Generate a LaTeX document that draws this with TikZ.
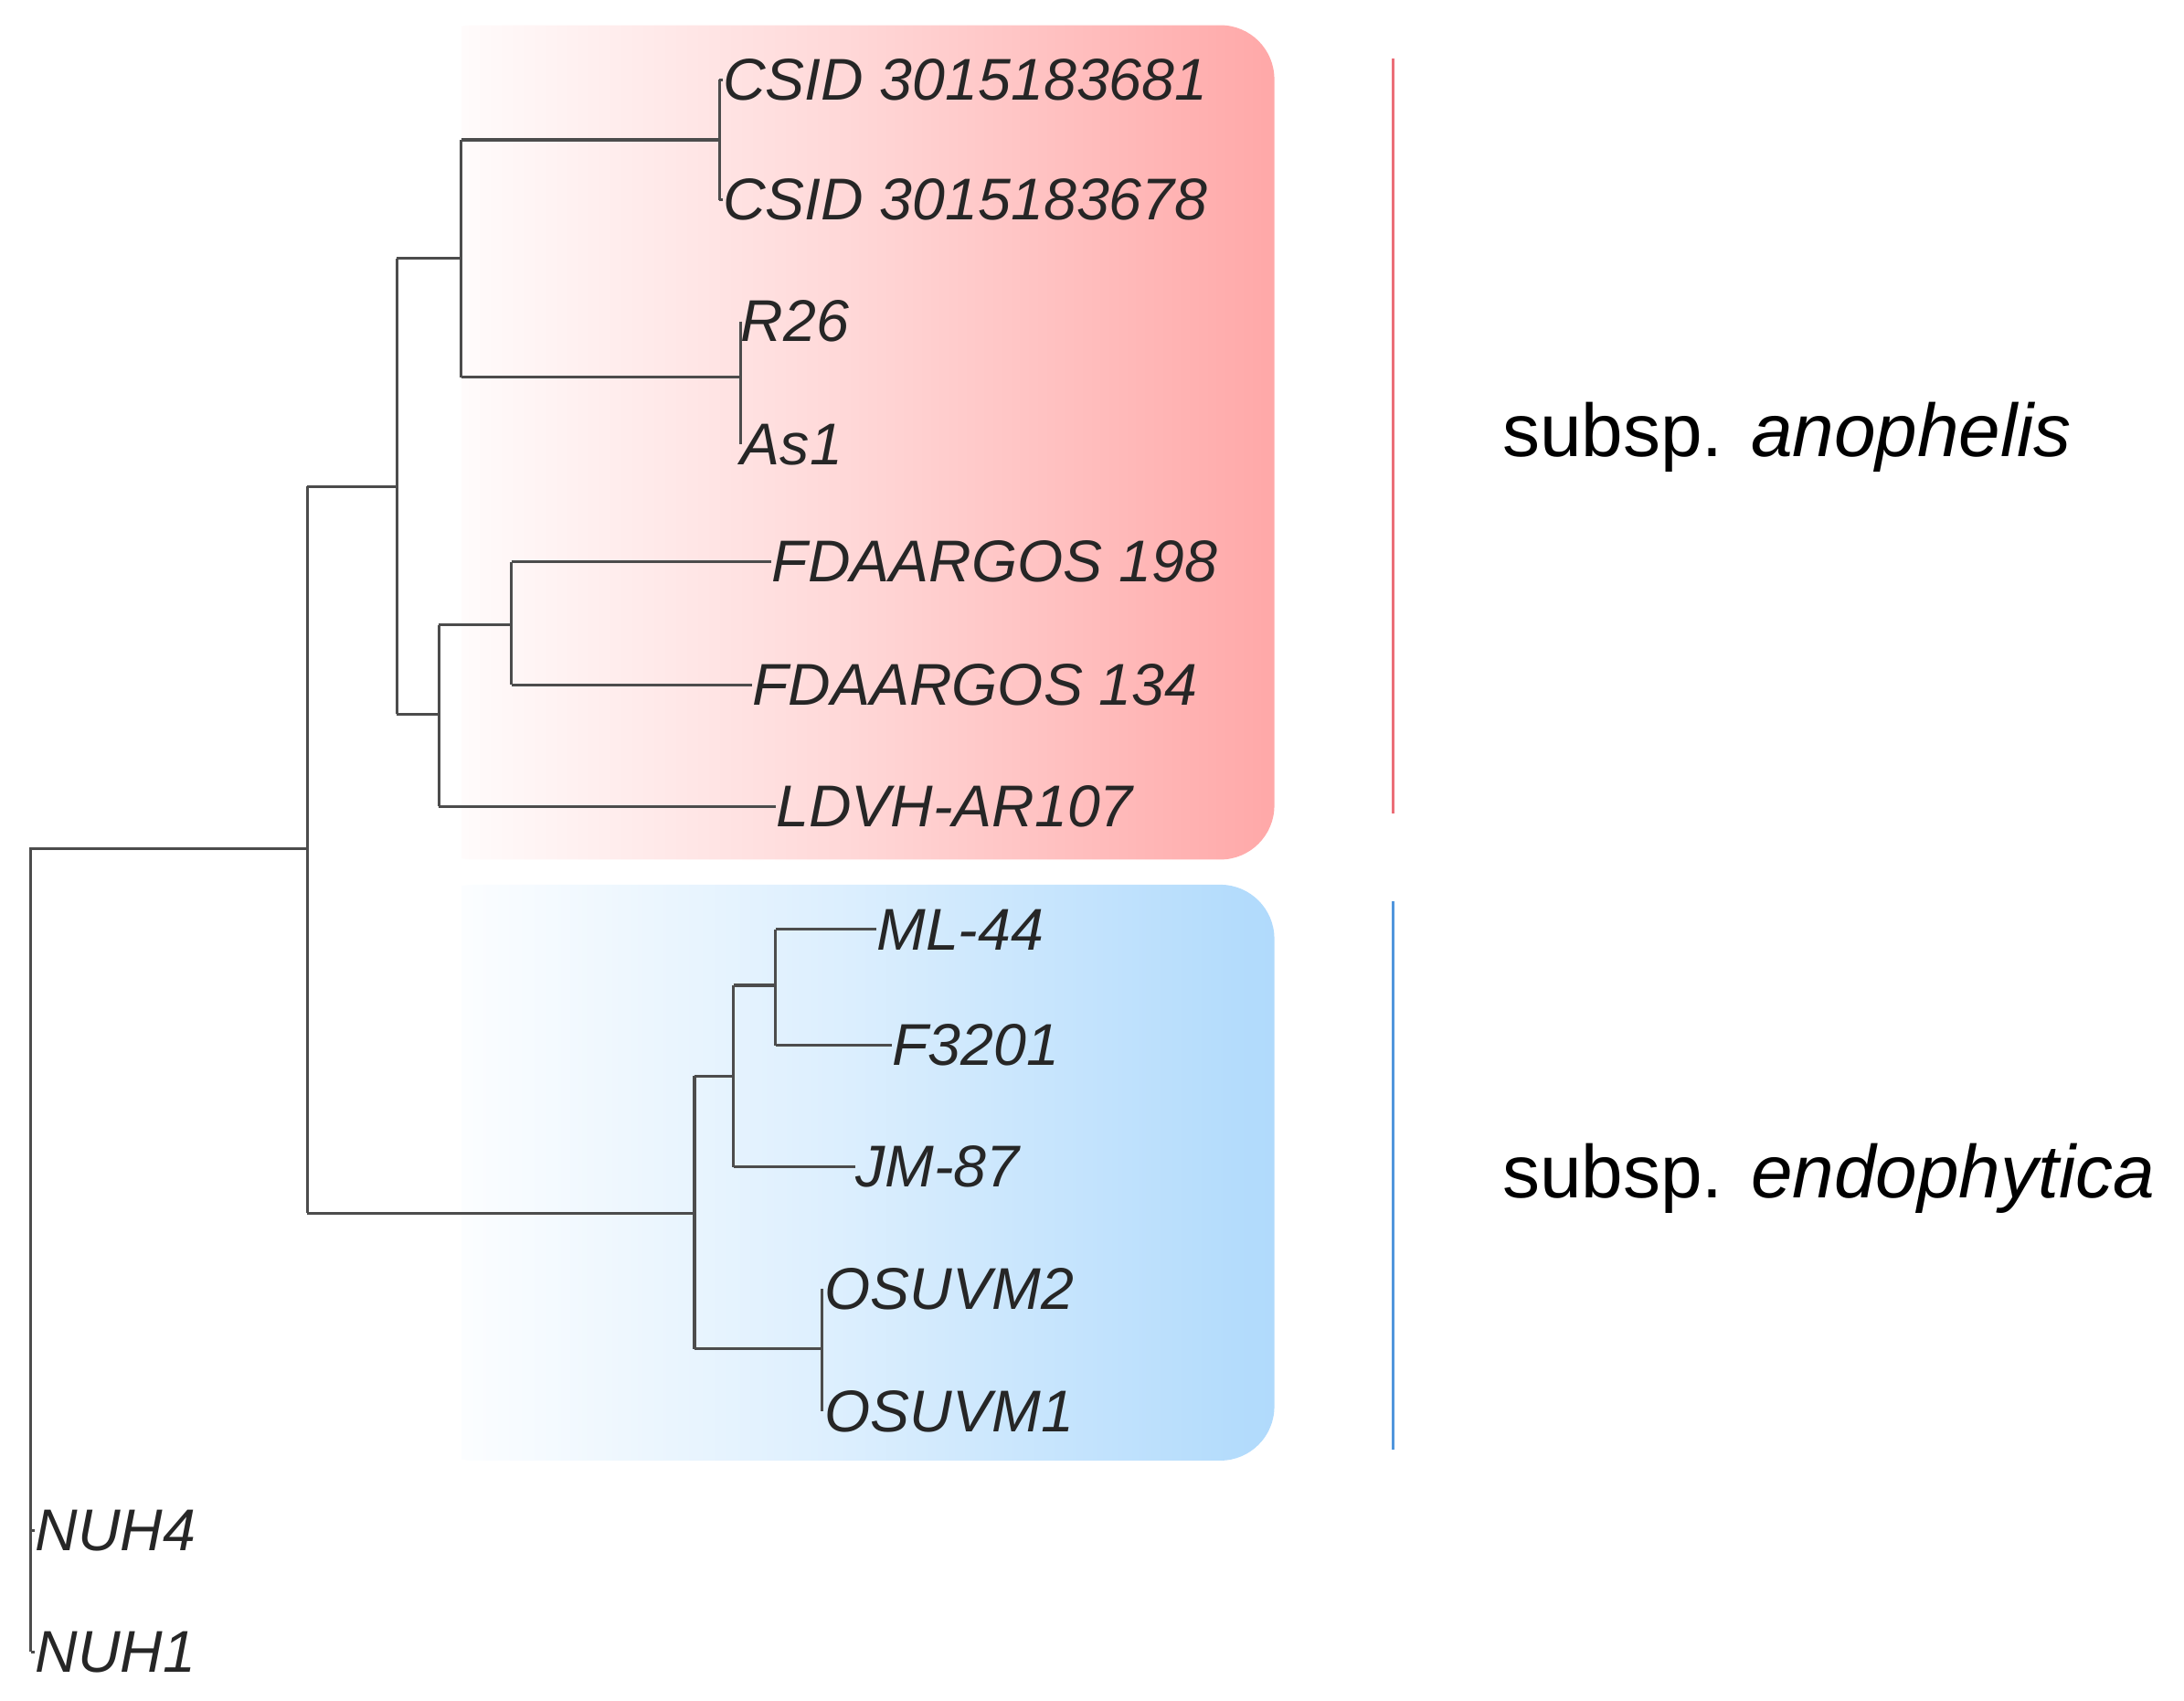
\documentclass[tikz,border=0pt]{standalone}
\usepackage{fontspec}
\setmainfont{Liberation Sans}
\definecolor{rbox}{RGB}{255,168,168}
\definecolor{bbox}{RGB}{176,218,252}
\definecolor{rbar}{RGB}{235,110,120}
\definecolor{bbar}{RGB}{80,150,220}
\begin{document}
\begin{tikzpicture}[x=0.02cm,y=-0.02cm,
  leaf/.style={anchor=west,inner sep=0pt,font=\fontsize{24}{28}\selectfont\itshape,text=black!85},
  br/.style={draw=black!70,line width=1.2pt},
  grp/.style={anchor=west,inner sep=0pt,font=\fontsize{30.5}{36}\selectfont}]
\useasboundingbox (0,0) rectangle (1563,1217);
% boxes
\shade[rounded corners=22pt,left color=white,right color=rbox,middle color=rbox!45] (300,18) rectangle (912,615);
\shade[rounded corners=22pt,left color=white,right color=bbox,middle color=bbox!45] (300,633) rectangle (912,1045);
\fill[white] (300,10) rectangle (330,1050);
% leaves
\node[leaf] (c1) at (517,57) {CSID 3015183681};
\node[leaf] (c2) at (517,143) {CSID 3015183678};
\node[leaf] (r26) at (530,230) {R26};
\node[leaf] (as1) at (530,318) {As1};
\node[leaf] (f198) at (552,402) {FDAARGOS 198};
\node[leaf] (f134) at (538,490) {FDAARGOS 134};
\node[leaf] (ld) at (555,577) {LDVH-AR107};
\node[leaf] (ml) at (627,665) {ML-44};
\node[leaf] (f32) at (638,748) {F3201};
\node[leaf] (jm) at (612,835) {JM-87};
\node[leaf] (o2) at (590,922) {OSUVM2};
\node[leaf] (o1) at (590,1010) {OSUVM1};
\node[leaf] (n4) at (25,1095) {NUH4};
\node[leaf] (n1) at (25,1182) {NUH1};
% internal
\coordinate (root) at (22,607);
\coordinate (a) at (220,607);
\coordinate (b) at (284,348);
\coordinate (c) at (330,185);
\coordinate (d) at (515,100);
\coordinate (e) at (530,270);
\coordinate (f) at (314,511);
\coordinate (g) at (366,447);
\coordinate (h) at (497,868);
\coordinate (i) at (525,770);
\coordinate (j) at (555,705);
\coordinate (k) at (588,965);
\draw[br] (root|-n1) -- (root) -- (a);
\draw[br] (root|-n4) -- (n4.west); \draw[br] (root|-n1) -- (n1.west);
\draw[br] (a|-b) -- (a|-h);
\draw[br] (a|-b) -- (b); \draw[br] (b|-c) -- (b|-f);
\draw[br] (b|-c) -- (c); \draw[br] (c|-d) -- (c|-e);
\draw[br] (c|-d) -- (d); \draw[br] (d|-c1) -- (d|-c2);
\draw[br] (d|-c1) -- (c1.west); \draw[br] (d|-c2) -- (c2.west);
\draw[br] (c|-e) -- (e); \draw[br] (e|-r26) -- (e|-as1);
\draw[br] (b|-f) -- (f); \draw[br] (f|-g) -- (f|-ld);
\draw[br] (f|-g) -- (g); \draw[br] (g|-f198) -- (g|-f134);
\draw[br] (g|-f198) -- (f198.west); \draw[br] (g|-f134) -- (f134.west);
\draw[br] (f|-ld) -- (ld.west);
\draw[br] (a|-h) -- (h); \draw[br] (h|-i) -- (h|-k);
\draw[br] (h|-i) -- (i); \draw[br] (i|-j) -- (i|-jm);
\draw[br] (i|-j) -- (j); \draw[br] (j|-ml) -- (j|-f32);
\draw[br] (j|-ml) -- (ml.west); \draw[br] (j|-f32) -- (f32.west);
\draw[br] (i|-jm) -- (jm.west);
\draw[br] (h|-k) -- (k); \draw[br] (k|-o2) -- (k|-o1);
% group bars
\coordinate (ra) at (997,42); \coordinate (rb) at (997,582);
\coordinate (ba) at (997,645); \coordinate (bb) at (997,1037);
\draw[rbar,line width=1.2pt] (ra) -- (rb);
\draw[bbar,line width=1.2pt] (ba) -- (bb);
\node[grp] (ga) at (1075,313) {subsp. \textit{anophelis}};
\node[grp] (gb) at (1075,843) {subsp. \textit{endophytica}};
\end{tikzpicture}
\end{document}
